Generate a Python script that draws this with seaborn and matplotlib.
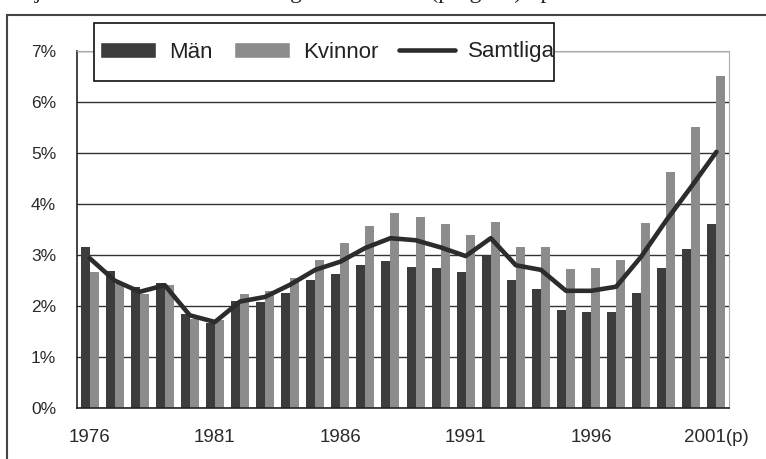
import numpy as np
import pandas as pd
import seaborn as sns
import matplotlib.pyplot as plt
from matplotlib.lines import Line2D
from matplotlib.patches import Patch, Rectangle
from matplotlib.ticker import FuncFormatter

# data (procent)
years = [str(y) for y in range(1976, 2002)]
man = [3.16, 2.69, 2.38, 2.46, 1.84, 1.66, 2.10, 2.09, 2.25, 2.51, 2.62, 2.80, 2.88,
       2.77, 2.74, 2.66, 2.99, 2.51, 2.33, 1.92, 1.88, 1.88, 2.25, 2.74, 3.11, 3.60]
kvinnor = [2.67, 2.43, 2.24, 2.41, 1.74, 1.73, 2.23, 2.30, 2.56, 2.90, 3.24, 3.57, 3.83,
           3.75, 3.61, 3.39, 3.65, 3.16, 3.16, 2.72, 2.75, 2.90, 3.62, 4.62, 5.50, 6.50]
samtliga = [2.94, 2.50, 2.28, 2.41, 1.82, 1.69, 2.09, 2.18, 2.42, 2.71, 2.87, 3.14, 3.33,
            3.29, 3.15, 2.98, 3.33, 2.80, 2.71, 2.30, 2.30, 2.38, 2.97, 3.68, 4.34, 5.02]
xlabels = ['1976', '1981', '1986', '1991', '1996', '2001(p)']
xlabel_pos = [0, 5, 10, 15, 20, 25]

sns.set_style('white')
plt.rcParams['font.family'] = ['Liberation Sans', 'DejaVu Sans']

df = pd.DataFrame({'year': years * 2,
                   'value': man + kvinnor,
                   'kon': ['Män'] * len(years) + ['Kvinnor'] * len(years)})

W, H = 766, 459
fig = plt.figure(figsize=(W / 100, H / 100), dpi=100)
ax = fig.add_axes([77 / W, 1 - 408.3 / H, 652 / W, 357.6 / H])

c_man = '#3c3c3c'
c_kv = '#8c8c8c'
c_line = '#2c2c2c'

sns.barplot(data=df, x='year', y='value', hue='kon', palette=[c_man, c_kv],
            width=0.72, saturation=1, linewidth=0, ax=ax, legend=False)
sns.lineplot(x=np.arange(len(years)), y=samtliga, color=c_line, lw=3.3, ax=ax)

ax.set_xlim(-0.5, len(years) - 0.5)
ax.set_ylim(0, 7)
ax.set_yticks(range(0, 8))
ax.yaxis.set_major_formatter(FuncFormatter(lambda v, p: '%d%%' % v))
ax.yaxis.grid(True, color='#333333', lw=1.0)
ax.set_axisbelow(True)

# ticks between categories, labels every 5th year
ax.set_xticks(np.arange(-0.5, len(years), 1.0))
ax.set_xticklabels([])
ax.set_xticks(xlabel_pos, minor=True)
ax.set_xticklabels(xlabels, minor=True)
ax.tick_params(axis='x', which='major', direction='out', length=5, width=1, color='#222222')
ax.tick_params(axis='x', which='minor', length=0, pad=15, labelsize=13.5, colors='#2a2a2a')
ax.tick_params(axis='y', direction='out', length=6, width=1, color='#222222',
               labelsize=12.5, pad=9, labelcolor='#2a2a2a')
ax.set_xlabel('')
ax.set_ylabel('')

for s in ['left', 'bottom']:
    ax.spines[s].set_color('#222222')
    ax.spines[s].set_linewidth(1.2)
for s in ['top', 'right']:
    ax.spines[s].set_color('#aaaaaa')
    ax.spines[s].set_linewidth(0.8)

# legendruta (egen ram så att höjd och bredd stämmer)
fig.patches.append(Rectangle((94 / W, 1 - 81 / H), 460 / W, 58 / H, transform=fig.transFigure,
                             facecolor='white', edgecolor='#111111', lw=1.2, zorder=3))
handles = [Patch(facecolor=c_man, label='Män'),
           Patch(facecolor=c_kv, label='Kvinnor'),
           Line2D([0], [0], color=c_line, lw=3.3, label='Samtliga')]
leg = fig.legend(handles=handles, loc='center left', bbox_to_anchor=(96 / W, 1 - 52 / H),
                 borderaxespad=0, ncol=3, fontsize=16, frameon=False,
                 handlelength=2.5, handleheight=0.7, columnspacing=0.95,
                 handletextpad=0.6, borderpad=0.2)
leg.set_zorder(4)
for t in leg.get_texts():
    t.set_color('#222222')

# yttre ram runt diagrammet
fig.patches.append(Rectangle((7 / W, -0.1), 1.2, 1 - 15 / H + 0.1, transform=fig.transFigure,
                             fill=False, edgecolor='#444444', lw=1.5))

# avklippt rubrik ovanför
fig.text(-2 / W, 1 + 2 / H, 'rdelja 3. Arbetslösheten i Sverige 1976–2001 (prognos) i procent',
         fontsize=17, family=['Liberation Serif', 'DejaVu Serif'], va='baseline', ha='left',
         color='#222222')

fig.savefig('out.png', dpi=100)
